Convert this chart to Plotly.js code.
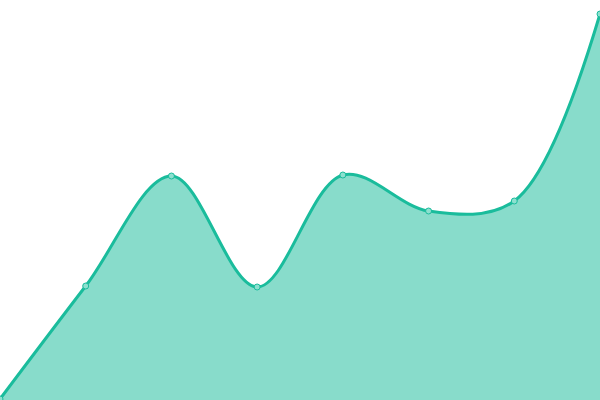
<!DOCTYPE html>
<html>
<head>
<meta charset="utf-8">
<script src="https://cdn.plot.ly/plotly-3.0.1.min.js"></script>
<style>
  html, body { margin: 0; padding: 0; background: #fff; }
  #chart { width: 600px; height: 400px; }
</style>
</head>
<body>
<div id="chart"></div>
<script>
// data
const xs = [0, 1, 2, 3, 4, 5, 6, 7];
const values = [1, 114, 224, 113, 225, 189, 199, 386];

const lineColor = "#1abc9c";

const trace = {
    x: xs,
    y: values,
    type: "scatter",
    mode: "lines+markers",
    fill: "tozeroy",
    fillcolor: "rgba(26,188,156,0.52)",
    line: { color: lineColor, width: 3, shape: "spline", smoothing: 1 },
    marker: {
        size: 6,
        color: "rgba(141,224,207,1)",
        line: { color: lineColor, width: 1 }
    },
    cliponaxis: false,
    hoverinfo: "none"
};

const layout = {
    width: 600,
    height: 400,
    margin: { l: 0, r: 0, t: 0, b: 0 },
    paper_bgcolor: "#fff",
    plot_bgcolor: "#fff",
    showlegend: false,
    xaxis: { range: [0, 7], visible: false, fixedrange: true },
    yaxis: { range: [0, 400], visible: false, fixedrange: true }
};

Plotly.newPlot("chart", [trace], layout, { displayModeBar: false, staticPlot: true });
</script>
</body>
</html>
